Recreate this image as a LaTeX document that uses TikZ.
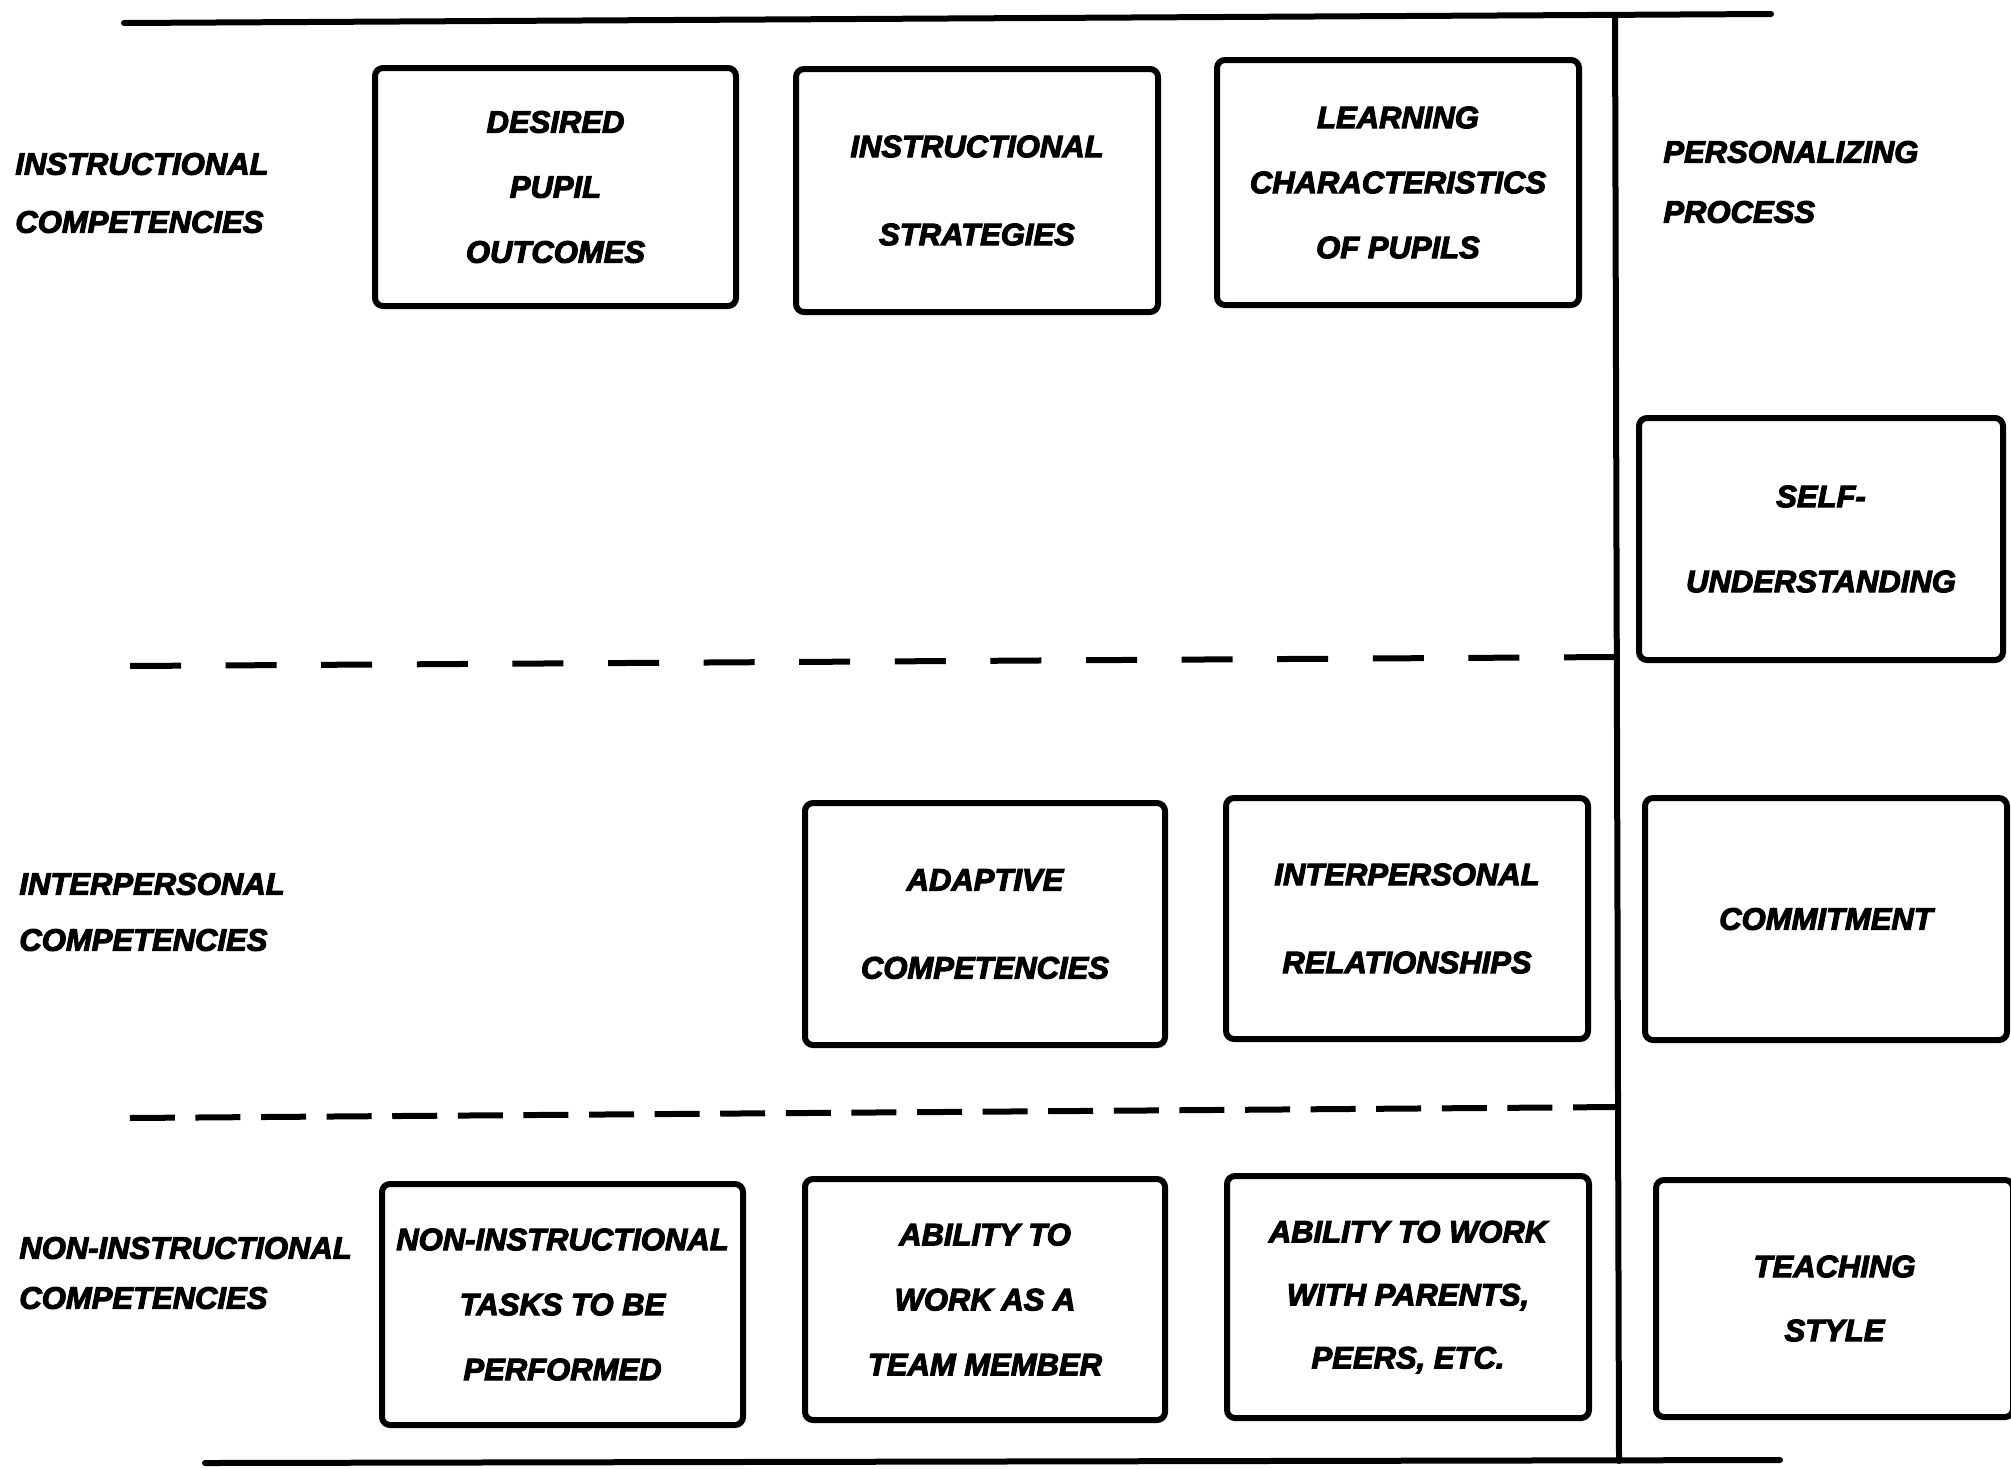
\documentclass[tikz,border=0pt]{standalone}
\usepackage{fontspec}
\newfontfamily\lab[FakeBold=3.5]{Liberation Sans}
\newcommand\labfont[1]{\lab\bfseries\itshape\fontsize{15.5}{#1}\selectfont}
\tikzset{
  frameline/.style={line width=3pt, line cap=round},
  dashone/.style={line width=3pt, dash pattern=on 25.5pt off 22.3pt},
  dashtwo/.style={line width=3pt, dash pattern=on 22.5pt off 10.3pt},
  box/.style={draw, line width=3pt, rounded corners=4pt, align=center, inner sep=0pt,
    minimum width=181pt, minimum height=121pt, font=\labfont{32.5}},
  wide/.style={font=\labfont{44}},
  lbl/.style={anchor=west, align=left, inner sep=0pt},
}
\begin{document}
\begin{tikzpicture}[x=0.5pt,y=-0.5pt]
\useasboundingbox (0,0) rectangle (2011,1468);
% frame coordinates
\coordinate (tl) at (124,23);
\coordinate (tr) at (1771,14);
\coordinate (vt) at (1615,16);
\coordinate (vb) at (1619,1461);
\coordinate (bl) at (205,1463);
\coordinate (br) at (1780,1460);
\coordinate (d1l) at (128,666);
\coordinate (d1r) at (1615,657);
\coordinate (d2l) at (128,1118);
\coordinate (d2r) at (1618,1107);
\draw[frameline] (tl) -- (tr);
\draw[frameline] (vt) -- (vb);
\draw[frameline] (bl) -- (br);
\draw[dashone] (d1r) -- (d1l);
\draw[dashtwo] (d2r) -- (d2l);
% row labels
\node[lbl, font=\labfont{29}] (l1) at (15,193) {INSTRUCTIONAL\\COMPETENCIES};
\node[lbl, font=\labfont{30}] (l2) at (1663,182) {PERSONALIZING\\PROCESS};
\node[lbl, font=\labfont{28}] (l3) at (19,912) {INTERPERSONAL\\COMPETENCIES};
\node[lbl, font=\labfont{25}] (l4) at (19,1273) {NON-INSTRUCTIONAL\\COMPETENCIES};
% boxes
\node[box, minimum width=180.5pt, minimum height=119pt] (b1) at (555.5,187) {DESIRED\\PUPIL\\OUTCOMES};
\node[box, wide, minimum height=121.5pt] (b2) at (977,190.5) {INSTRUCTIONAL\\STRATEGIES};
\node[box, minimum height=122.5pt] (b3) at (1398,182.5) {LEARNING\\CHARACTERISTICS\\OF PUPILS};
\node[box, font=\labfont{42.5}, minimum width=182pt] (b4) at (1821,539) {SELF-\\UNDERSTANDING};
\node[box, wide, minimum width=180pt] (b5) at (985,924) {ADAPTIVE\\COMPETENCIES};
\node[box, wide, minimum height=120.5pt] (b6) at (1407,918.5) {INTERPERSONAL\\RELATIONSHIPS};
\node[box] (b7) at (1826,919) {COMMITMENT};
\node[box, minimum width=180.5pt, minimum height=120.5pt] (b8) at (562.5,1304.5) {NON-INSTRUCTIONAL\\TASKS TO BE\\PERFORMED};
\node[box, minimum width=180pt, minimum height=120.5pt] (b9) at (985,1299.5) {ABILITY TO\\WORK AS A\\TEAM MEMBER};
\node[box, font=\labfont{31.5}] (b10) at (1408,1297) {ABILITY TO WORK\\WITH PARENTS,\\PEERS, ETC.};
\node[box, font=\labfont{32}, minimum width=178.5pt, minimum height=118.5pt] (b11) at (1834.5,1298.5) {TEACHING\\STYLE};
\end{tikzpicture}
\end{document}
